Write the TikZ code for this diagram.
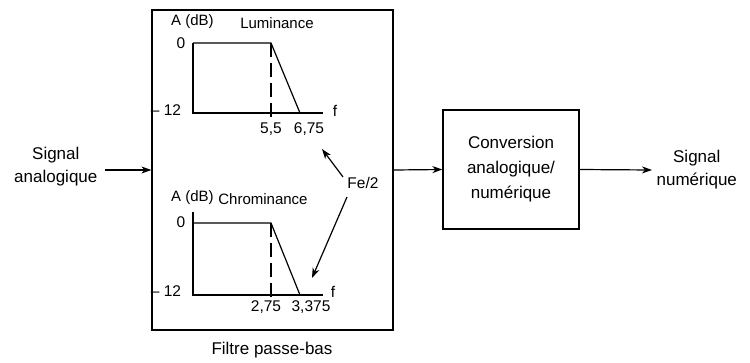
\documentclass[tikz,border=0pt]{standalone}
\usepackage{fontspec}
\setmainfont{Liberation Sans}
\usetikzlibrary{arrows.meta}
\begin{document}
\begin{tikzpicture}[x=1pt,y=-1pt, line width=1.2pt,
  arr/.style={-{Stealth[length=10pt,width=7pt,inset=3pt]}},
  big/.style={font=\fontsize{17}{23}\selectfont, align=center},
  small/.style={font=\fontsize{15}{17}\selectfont, inner sep=0pt},
  num/.style={font=\fontsize{15.5}{18}\selectfont, inner sep=0pt},
  dashline/.style={dash pattern=on 14pt off 6pt}]
\useasboundingbox (0,0) rectangle (750,362);
% boxes
\node[draw, minimum width=241pt, minimum height=320pt, inner sep=0pt] (filt) at (272.5,170) {};
\node[draw, minimum width=136pt, minimum height=119pt, inner sep=0pt, font=\fontsize{17}{25}\selectfont, align=center] (conv) at (511,169.5) {Conversion\\analogique/\\numérique};
% side labels
\node[big, anchor=east, inner sep=0pt] (sa) at (98,167) {Signal\\analogique};
\node[big, anchor=west, inner sep=4pt] (sn) at (652,170) {Signal\\numérique};
\node[big] (fpb) at (272,350) {Filtre passe-bas};
% main arrows
\draw[arr] ([xshift=7pt]sa.east |- filt.west) -- (filt.west);
\draw[arr] (filt.east) -- (conv.west);
\draw[arr] (conv.east) -- (sn.west);
% luminance graph
\draw (193,43) -- (193,113) -- (323,113);
\draw (193,43) -- (271,43) -- (300,113);
\draw[dashline] (271,43) -- (271,120);
\node[small] (la) at (192.5,22) {A (dB)};
\node[small] (lt) at (277,23) {Luminance};
\node[num] (l0) at (181,43) {0};
\node[num] (l12) at (166,110) {– 12};
\node[num] (lf) at (335,111) {f};
\node[num] (l55) at (271,129) {5,5};
\node[num] (l675) at (309,129) {6,75};
% chrominance graph
\draw (193,212) -- (193,295) -- (323,295);
\draw (193,223) -- (271,223) -- (300,295);
\draw[dashline] (271,223) -- (271,300);
\node[small] (ca) at (192.5,198) {A (dB)};
\node[small] (ct) at (263,199) {Chrominance};
\node[num] (c0) at (181,222) {0};
\node[num] (c12) at (166,291) {– 12};
\node[num] (cf) at (333,292) {f};
\node[num] (c275) at (266,307) {2,75};
\node[num] (c3375) at (311,307) {3,375};
% Fe/2
\node[num] (fe) at (363,183) {Fe/2};
\coordinate (t1) at (322,149);
\coordinate (t2) at (312,278);
\draw[arr] (343,177) -- (t1);
\draw[arr] (347,197) -- (t2);
\end{tikzpicture}
\end{document}
